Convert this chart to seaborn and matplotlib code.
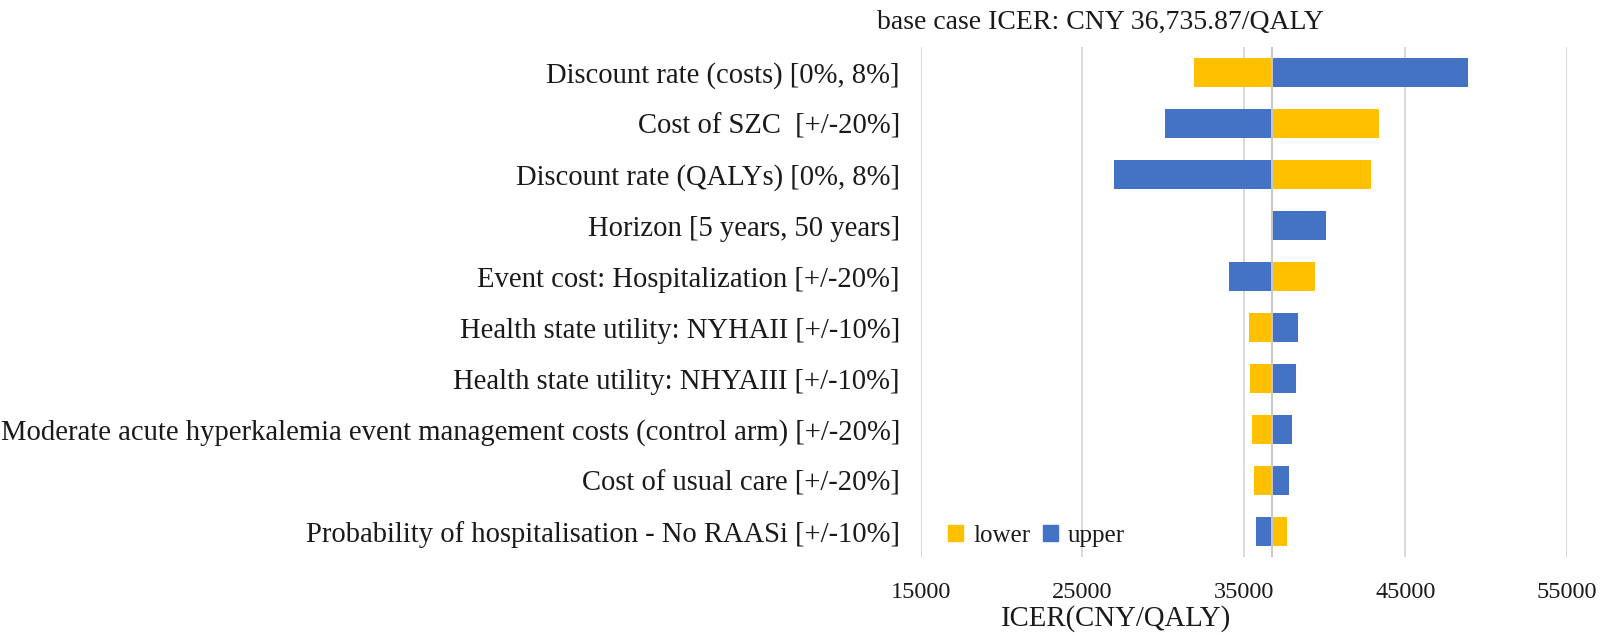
import numpy as np
import pandas as pd
import matplotlib.pyplot as plt
import seaborn as sns

base_icer = 36735.87

params = [
    "Discount rate (costs) [0%, 8%]",
    "Cost of SZC  [+/-20%]",
    "Discount rate (QALYs) [0%, 8%]",
    "Horizon [5 years, 50 years]",
    "Event cost: Hospitalization [+/-20%]",
    "Health state utility: NYHAII [+/-10%]",
    "Health state utility: NHYAIII [+/-10%]",
    "Moderate acute hyperkalemia event management costs (control arm) [+/-20%]",
    "Cost of usual care [+/-20%]",
    "Probability of hospitalisation - No RAASi [+/-10%]",
]
# ICER at the lower / upper bound of each parameter
lower = [31900, 43350, 42880, 36735.87, 39380, 35300, 35390, 35520, 35630, 37700]
upper = [48860, 30150, 26960, 40070, 34060, 38330, 38250, 37980, 37780, 35740]

ticks = [15000, 25000, 35000, 45000, 55000]

yellow = "#FFC000"
blue = "#4472C4"
grid_col = "#D9D9D9"
text_col = "#1a1a1a"

df = pd.DataFrame({
    "param": params * 2,
    "bound": ["lower"] * len(params) + ["upper"] * len(params),
    "icer": lower + upper,
})
df["delta"] = df["icer"] - base_icer

sns.set_theme(style="white")
plt.rcParams["font.family"] = ["Liberation Serif", "DejaVu Serif"]

fig = plt.figure(figsize=(16.07, 6.38), dpi=100)
ax = fig.add_axes([0.573, 0.127, 0.402, 0.799])

# vertical grid first so bars sit on top
for t in ticks:
    ax.axvline(t, color=grid_col, lw=1.4, zorder=0)
ax.axvline(base_icer, color="#C8C8C8", lw=1.4, zorder=3)

sns.barplot(data=df, y="param", x="delta", hue="bound", order=params,
            hue_order=["lower", "upper"], palette={"lower": yellow, "upper": blue},
            dodge=False, width=0.57, orient="h", left=base_icer, saturation=1,
            linewidth=0, ax=ax, zorder=2, legend=False)

ax.set_xlim(15000, 55000)
ax.set_ylim(len(params) - 0.5, -0.5)
ax.set_xticks(ticks)
ax.set_xticklabels([str(t) for t in ticks])
ax.tick_params(axis="x", length=0, pad=18, labelsize=17.5, colors=text_col)
ax.tick_params(axis="y", length=0, pad=15, labelsize=20.6, colors=text_col)
ax.set_xlabel("")
ax.set_ylabel("")
for s in ax.spines.values():
    s.set_visible(False)
ax.grid(False)

handles = [plt.Rectangle((0, 0), 1, 1, color=yellow), plt.Rectangle((0, 0), 1, 1, color=blue)]
ax.legend(handles, ["lower", "upper"], loc="lower left", bbox_to_anchor=(0.008, -0.024),
          ncol=2, frameon=False, fontsize=18, handlelength=0.6, handleheight=0.6,
          handletextpad=0.4, columnspacing=0.5, labelcolor=text_col)

fig.text(0.685, 0.965, "base case ICER: CNY 36,735.87/QALY", ha="center", va="center",
         fontsize=20, color=text_col)
fig.text(0.6945, 0.020, "ICER(CNY/QALY)", ha="center", va="baseline",
         fontsize=20.7, color=text_col)

fig.savefig("out.png", dpi=100)
